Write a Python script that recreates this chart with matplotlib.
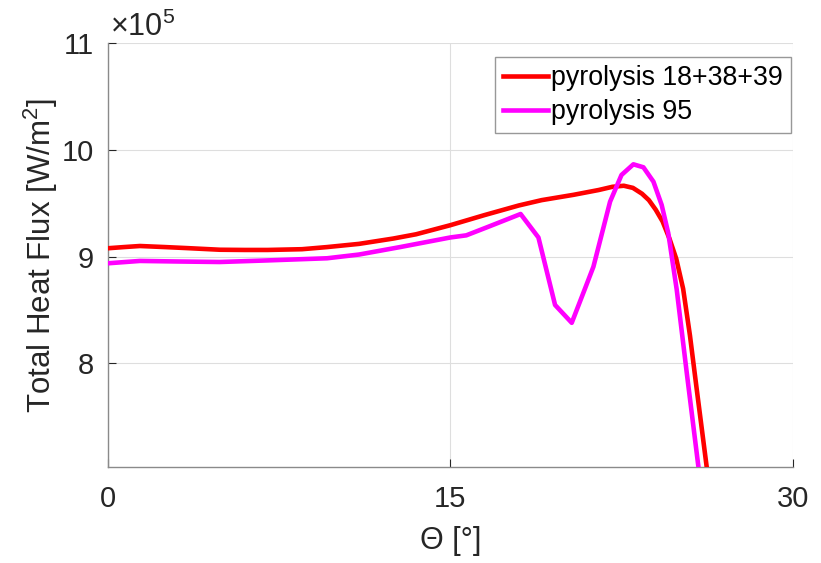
import matplotlib
matplotlib.use("Agg")
import matplotlib.pyplot as plt

# Data (heat flux in units of 1e5 W/m^2)
theta_red = [0, 0.7, 1.4, 2.5, 3.5, 4.9, 6.0, 7.0, 8.5, 9.6, 11.0, 12.5, 13.5, 15.0,
             16.5, 18.0, 19.0, 20.4, 21.5, 22.1, 22.6, 23.0, 23.4, 23.7, 24.0, 24.3,
             24.6, 24.9, 25.2, 25.5, 25.8, 26.1, 26.4]
flux_red = [9.079, 9.09, 9.10, 9.09, 9.08, 9.065, 9.063, 9.063, 9.07, 9.09, 9.12, 9.17,
            9.21, 9.295, 9.39, 9.48, 9.53, 9.58, 9.625, 9.655, 9.665, 9.645, 9.59, 9.53,
            9.44, 9.33, 9.17, 8.98, 8.70, 8.26, 7.75, 7.25, 6.75]

theta_mag = [0, 1.4, 3.0, 4.9, 7.0, 9.6, 11.0, 12.8, 15.0, 15.7, 16.6, 18.08, 18.86,
             19.59, 20.32, 20.9, 21.27, 22.0, 22.5, 23.02, 23.46, 23.9, 24.26, 24.55,
             24.92, 25.36, 25.87, 26.2]
flux_mag = [8.938, 8.96, 8.955, 8.95, 8.965, 8.985, 9.02, 9.09, 9.18, 9.20, 9.275, 9.40,
            9.18, 8.547, 8.38, 8.70, 8.906, 9.516, 9.766, 9.866, 9.838, 9.703, 9.485,
            9.22, 8.69, 7.91, 7.03, 6.6]

labels = ["pyrolysis 18+38+39", "pyrolysis 95"]
xticks = [0, 15, 30]
yticks = [8, 9, 10, 11]

plt.rcParams['font.family'] = ['Liberation Sans', 'DejaVu Sans']
plt.rcParams['mathtext.fontset'] = 'custom'
plt.rcParams['mathtext.rm'] = 'Liberation Sans'
plt.rcParams['mathtext.it'] = 'Liberation Sans'

fig = plt.figure(figsize=(8.21, 5.63), dpi=100)
ax = fig.add_axes([0.1315, 0.1705, 0.834, 0.7525])

ax.plot(theta_red, flux_red, color='#ff0000', lw=3.3, label=labels[0], zorder=3)
ax.plot(theta_mag, flux_mag, color='#ff00ff', lw=3.3, label=labels[1], zorder=3)

ax.set_xlim(0, 30)
ax.set_ylim(7.028, 11)
ax.set_xticks(xticks)
ax.set_yticks(yticks)
ax.grid(True, color='#dedede', lw=0.8)
ax.set_axisbelow(True)
for s in ['top', 'right']:
    ax.spines[s].set_visible(False)
for s in ['left', 'bottom']:
    ax.spines[s].set_color('#8a8a8a')
    ax.spines[s].set_linewidth(1.0)
ax.tick_params(direction='in', length=6, width=0.8, colors='#262626',
               labelsize=21, pad=10)
ax.tick_params(axis='x', pad=13)

ax.set_xlabel('Θ [°]', fontsize=22, color='#262626', labelpad=9)
ax.set_ylabel('Total Heat Flux [W/m$^2$]', fontsize=22.5, color='#262626', labelpad=1)

ax.text(0.003, 1.0, r'$\times$10$^5$', transform=ax.transAxes, fontsize=22,
        color='#262626', ha='left', va='bottom')

leg = ax.legend(loc='upper right', fontsize=19.3, frameon=True, fancybox=False,
                edgecolor='#7f7f7f', handlelength=1.7, handletextpad=0.1,
                borderpad=0.3, labelspacing=0.3, borderaxespad=0.0,
                bbox_to_anchor=(0.9975, 0.967))
leg.get_frame().set_linewidth(1.0)

fig.savefig('out.png', dpi=100)
